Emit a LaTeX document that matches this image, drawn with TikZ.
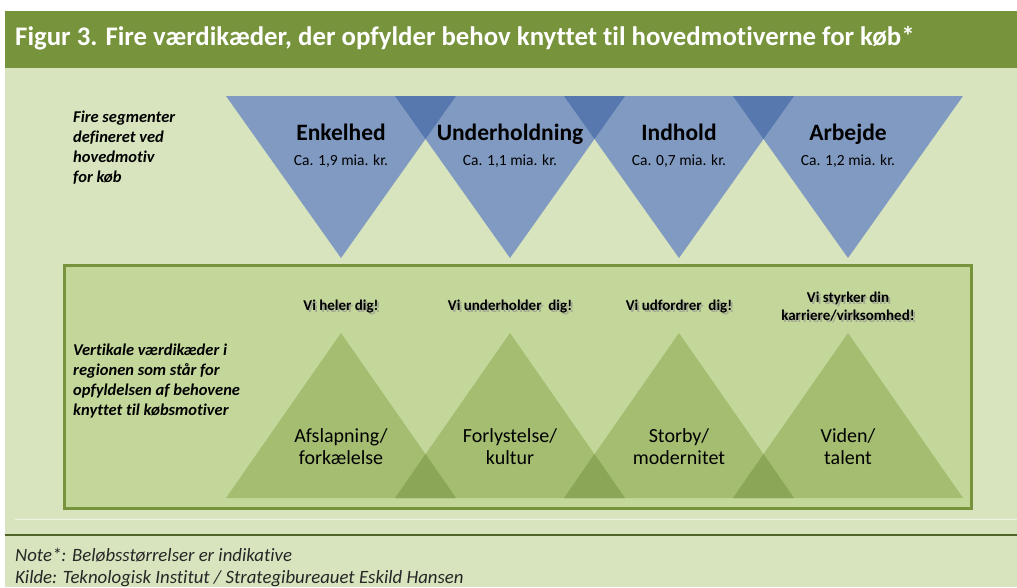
\documentclass[tikz,border=0pt]{standalone}
\usepackage{fontspec}
\setmainfont{Carlito}[Ligatures=CommonOff]
\definecolor{bg}{HTML}{D7E4BD}
\definecolor{titlegreen}{HTML}{77933C}
\definecolor{panelfill}{HTML}{C4D79B}
\definecolor{bluesingle}{HTML}{809AC2}
\definecolor{bluedouble}{HTML}{5778AE}
\definecolor{greensingle}{HTML}{A4BD71}
\definecolor{greendouble}{HTML}{8CA658}
\definecolor{darkline}{HTML}{4F6228}
\definecolor{lightline}{HTML}{EEF3E3}
\definecolor{notegray}{HTML}{262626}
\begin{document}
\begin{tikzpicture}[x=1pt,y=-1pt,
  titletext/.style={anchor=base west,inner sep=0pt,text=white,font=\fontsize{26.8}{30}\selectfont\bfseries},
  segname/.style={anchor=base,inner sep=0pt,font=\fontsize{23.5}{28}\selectfont\bfseries},
  segamount/.style={anchor=base,inner sep=0pt,font=\fontsize{15.5}{19}\selectfont},
  sidetext/.style={anchor=base west,inner sep=0pt,font=\fontsize{16.5}{20}\selectfont\bfseries\itshape},
  chainlabel/.style={anchor=base,inner sep=0pt,font=\fontsize{20}{24}\selectfont},
  slogan/.style={anchor=base,inner sep=0pt,font=\fontsize{15}{18}\selectfont\bfseries},
  sloganshadow/.style={slogan,text=black!45,opacity=0.6},
  notetext/.style={anchor=base west,inner sep=0pt,text=notegray,font=\fontsize{18.8}{22}\selectfont\itshape},
  bluetri/.style={fill=bluesingle},
  blueover/.style={fill=bluedouble},
  greentri/.style={fill=greensingle},
  greenover/.style={fill=greendouble}]
\useasboundingbox (0,0) rectangle (1017,587);
\fill[white] (0,0) rectangle (1017,587);
\fill[bg] (5,68) rectangle (1017,587);
\fill[titlegreen] (5,11) rectangle (1017,68);
\node[titletext] (title) at (15,45) {Figur 3. Fire værdikæder, der opfylder behov knyttet til hovedmotiverne for køb*};

% blue inverted triangles
\foreach \L in {226,395,564,733}{
  \fill[bluetri] (\L,96) -- (\L+230,96) -- (\L+115,258) -- cycle;
}
\foreach \L in {395,564,733}{
  \fill[blueover] (\L,96) -- (\L+61,96) -- (\L+30.5,139) -- cycle;
}
\node[segname] (s1) at (341,140) {Enkelhed};
\node[segname] (s2) at (510,140) {Underholdning};
\node[segname] (s3) at (679,140) {Indhold};
\node[segname] (s4) at (848,140) {Arbejde};
\node[segamount] (a1) at (341,165) {Ca. 1,9 mia. kr.};
\node[segamount] (a2) at (510,165) {Ca. 1,1 mia. kr.};
\node[segamount] (a3) at (679,165) {Ca. 0,7 mia. kr.};
\node[segamount] (a4) at (848,165) {Ca. 1,2 mia. kr.};

\node[sidetext] (f1) at (73,122) {Fire segmenter};
\node[sidetext] (f2) at (73,142) {defineret ved};
\node[sidetext] (f3) at (73,162) {hovedmotiv};
\node[sidetext] (f4) at (73,182) {for køb};

% panel
\draw[titlegreen,line width=3pt,fill=panelfill] (64,265) rectangle (971,508);
\foreach \L in {226,395,564,733}{
  \fill[greentri] (\L,498) -- (\L+230,498) -- (\L+115,333) -- cycle;
}
\foreach \L in {395,564,733}{
  \fill[greenover] (\L,498) -- (\L+61,498) -- (\L+30.5,454) -- cycle;
}
\node[chainlabel] (c1a) at (341,442) {Afslapning/};
\node[chainlabel] (c1b) at (341,464) {forkælelse};
\node[chainlabel] (c2a) at (510,442) {Forlystelse/};
\node[chainlabel] (c2b) at (510,464) {kultur};
\node[chainlabel] (c3a) at (679,442) {Storby/};
\node[chainlabel] (c3b) at (679,464) {modernitet};
\node[chainlabel] (c4a) at (848,442) {Viden/};
\node[chainlabel] (c4b) at (848,464) {talent};

\node[sloganshadow] (v1s) at (343,312) {Vi heler dig!};
\node[sloganshadow] (v2s) at (512,312) {Vi underholder~ dig!};
\node[sloganshadow] (v3s) at (681,312) {Vi udfordrer~ dig!};
\node[sloganshadow] (v4as) at (850,304) {Vi styrker din};
\node[sloganshadow] (v4bs) at (850,322) {karriere/virksomhed!};
\node[slogan] (v1) at (341,310) {Vi heler dig!};
\node[slogan] (v2) at (510,310) {Vi underholder~ dig!};
\node[slogan] (v3) at (679,310) {Vi udfordrer~ dig!};
\node[slogan] (v4a) at (848,302) {Vi styrker din};
\node[slogan] (v4b) at (848,320) {karriere/virksomhed!};

\node[sidetext] (g1) at (73,355) {Vertikale værdikæder i};
\node[sidetext] (g2) at (73,375) {regionen som står for};
\node[sidetext] (g3) at (73,395) {opfyldelsen af behovene};
\node[sidetext] (g4) at (73,415) {knyttet til købsmotiver};

% bottom lines and notes
\draw[lightline,line width=1pt] (15,519) -- (1017,519);
\draw[darkline,line width=2pt] (5,535) -- (1017,535);
\node[notetext] (n1) at (15,561) {Note*: Beløbsstørrelser er indikative};
\node[notetext] (n2) at (15,583) {Kilde: Teknologisk Institut / Strategibureauet Eskild Hansen};
\end{tikzpicture}
\end{document}
